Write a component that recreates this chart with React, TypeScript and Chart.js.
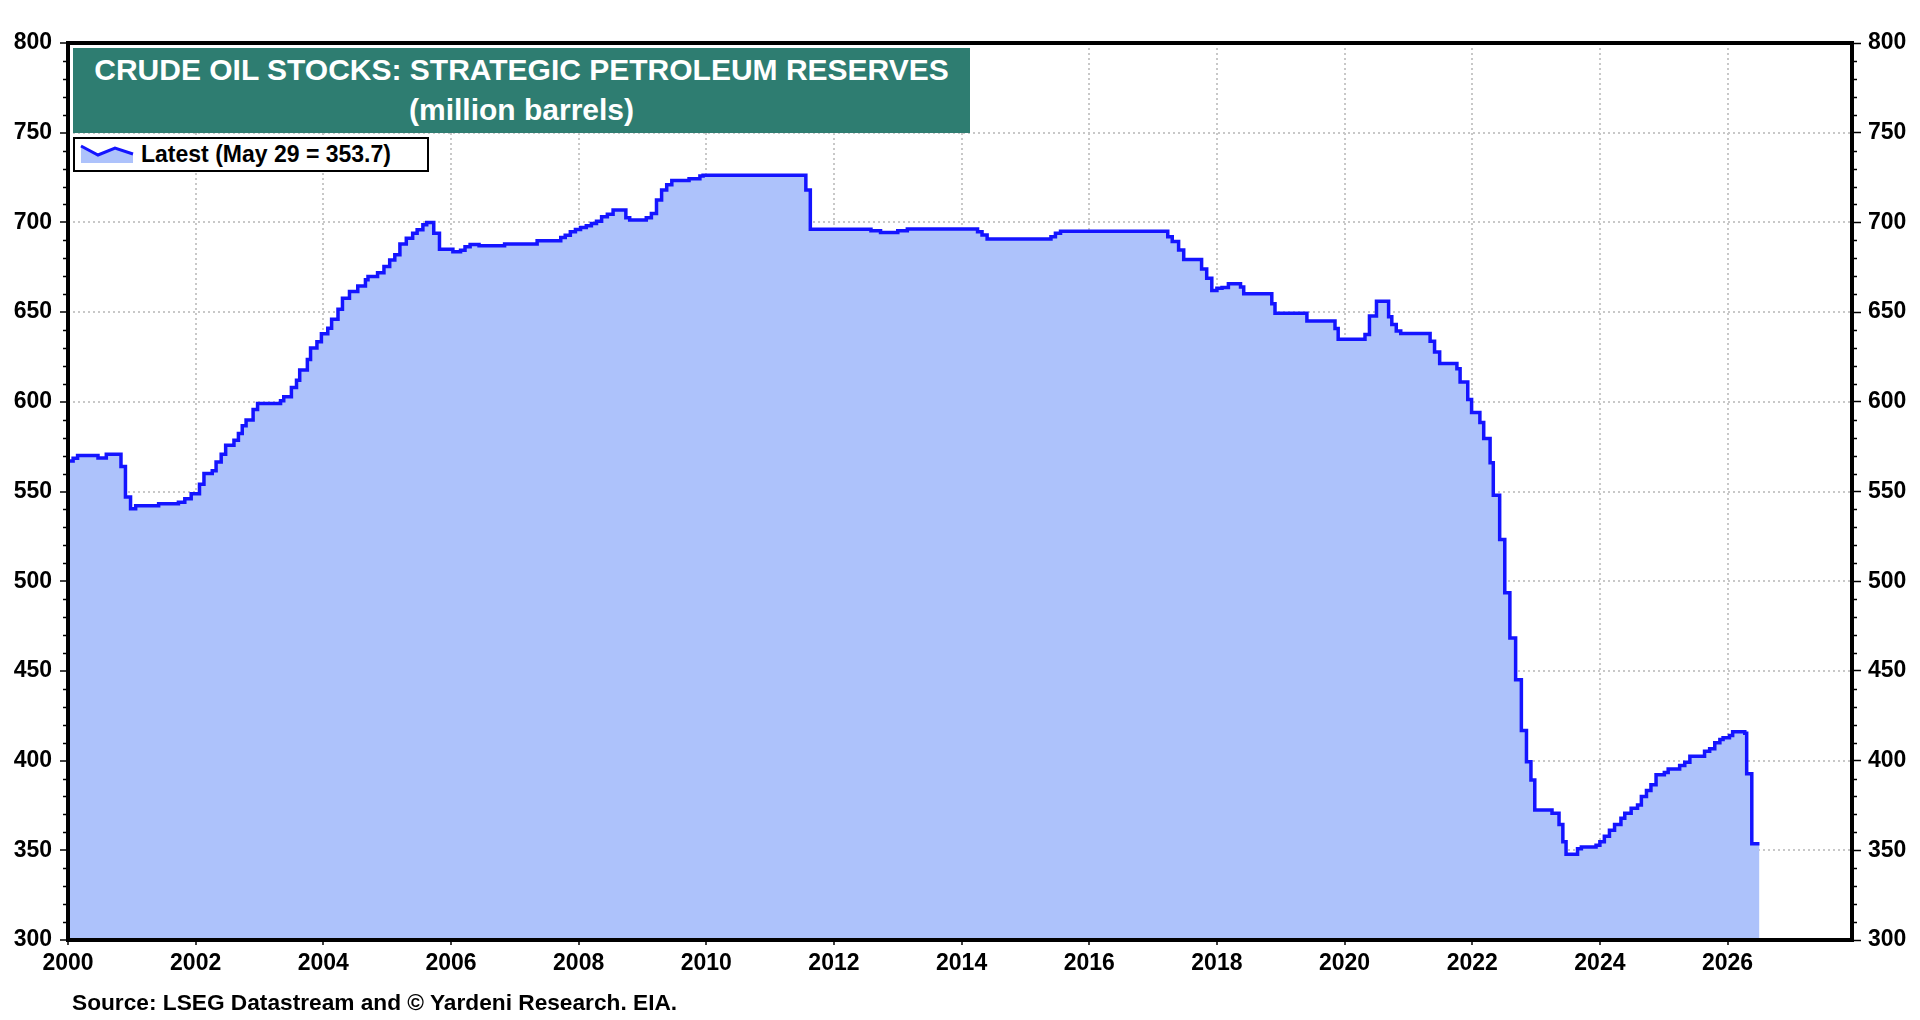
import { useEffect, useRef } from 'react';
import { Chart, registerables } from 'chart.js';

Chart.register(...registerables);

// step dates (decimal years) and SPR level (million barrels) from each date onward
const stepYears = [
  2000.0, 2000.08, 2000.15, 2000.47, 2000.6, 2000.83, 2000.9, 2000.98, 2001.06, 2001.42,
  2001.73, 2001.83, 2001.93, 2002.06, 2002.13, 2002.26, 2002.32, 2002.4, 2002.47, 2002.6,
  2002.67, 2002.73, 2002.79, 2002.9, 2002.97, 2003.33, 2003.38, 2003.5, 2003.58, 2003.63,
  2003.75, 2003.8, 2003.9, 2003.97, 2004.07, 2004.13, 2004.23, 2004.3, 2004.41, 2004.54,
  2004.66, 2004.7, 2004.85, 2004.95, 2005.04, 2005.12, 2005.2, 2005.3, 2005.4, 2005.47,
  2005.56, 2005.62, 2005.73, 2005.82, 2006.03, 2006.15, 2006.22, 2006.3, 2006.44, 2006.84,
  2007.35, 2007.72, 2007.79, 2007.87, 2007.95, 2008.03, 2008.12, 2008.2, 2008.28, 2008.36,
  2008.45, 2008.54, 2008.74, 2008.8, 2009.06, 2009.14, 2009.22, 2009.3, 2009.38, 2009.46,
  2009.73, 2009.9, 2009.95, 2011.56, 2011.63, 2012.58, 2012.73, 2013.0, 2013.15, 2014.25,
  2014.32, 2014.4, 2015.4, 2015.47, 2015.55, 2017.23, 2017.3, 2017.4, 2017.48, 2017.76,
  2017.84, 2017.92, 2018.0, 2018.08, 2018.18, 2018.37, 2018.42, 2018.86, 2018.91, 2019.41,
  2019.85, 2019.9, 2020.32, 2020.39, 2020.5, 2020.69, 2020.74, 2020.81, 2020.88, 2021.34,
  2021.41, 2021.49, 2021.76, 2021.81, 2021.93, 2021.99, 2022.12, 2022.18, 2022.28, 2022.33,
  2022.43, 2022.51, 2022.59, 2022.68, 2022.77, 2022.85, 2022.92, 2022.98, 2023.25, 2023.36,
  2023.42, 2023.47, 2023.65, 2023.71, 2023.94, 2024.0, 2024.07, 2024.15, 2024.23, 2024.33,
  2024.39, 2024.49, 2024.59, 2024.65, 2024.73, 2024.8, 2024.88, 2025.01, 2025.07, 2025.25,
  2025.33, 2025.41, 2025.64, 2025.72, 2025.8, 2025.88, 2025.93, 2026.03, 2026.08, 2026.27,
  2026.3, 2026.38, 2026.5,
];
const sprLevels = [
  567.0, 568.5, 570.0, 568.7, 570.8, 564.0, 547.0, 540.4, 542.0, 543.2,
  544.0, 546.0, 548.8, 554.0, 560.0, 561.5, 566.5, 570.8, 575.8, 578.6,
  582.3, 586.6, 589.8, 595.7, 599.0, 600.6, 602.8, 608.0, 612.0, 617.7,
  623.6, 630.0, 633.5, 638.0, 641.0, 646.0, 651.6, 657.7, 661.5, 664.6,
  668.0, 669.8, 672.0, 675.4, 679.0, 682.0, 688.0, 691.2, 694.0, 695.9,
  698.7, 700.0, 694.0, 685.0, 683.6, 684.5, 686.4, 687.7, 687.0, 688.0,
  689.8, 691.6, 692.9, 694.8, 696.0, 697.2, 698.1, 699.4, 700.7, 703.2,
  704.5, 706.9, 702.6, 701.3, 702.6, 705.0, 712.5, 718.0, 721.0, 723.3,
  724.4, 725.9, 726.3, 718.0, 696.2, 695.4, 694.4, 695.4, 696.3, 694.8,
  693.0, 690.7, 692.0, 693.9, 695.0, 692.0, 689.3, 684.6, 679.3, 674.0,
  668.9, 662.0, 663.3, 663.7, 665.8, 664.0, 660.2, 654.6, 649.3, 645.0,
  640.9, 634.8, 637.5, 647.8, 656.1, 647.4, 643.1, 639.4, 638.1, 633.8,
  627.7, 621.4, 618.4, 611.0, 601.3, 594.0, 588.5, 579.5, 566.0, 547.9,
  523.3, 493.5, 468.3, 445.0, 416.8, 399.4, 389.2, 372.4, 370.6, 364.4,
  354.7, 347.8, 350.9, 351.9, 352.8, 354.7, 357.9, 361.2, 364.4, 367.8,
  370.6, 373.4, 375.3, 380.0, 383.3, 386.5, 392.1, 393.4, 395.3, 397.2,
  399.1, 402.4, 405.2, 406.6, 409.9, 411.8, 412.7, 414.0, 416.1, 415.2,
  392.7, 353.7, 353.7,
];
const yearTicks = [2000, 2002, 2004, 2006, 2008, 2010, 2012, 2014, 2016, 2018, 2020, 2022, 2024, 2026];
const levelTicks = [300, 350, 400, 450, 500, 550, 600, 650, 700, 750, 800];

const FONT = '"Liberation Sans", Arial, sans-serif';
const tickFont = { family: FONT, size: 23, weight: 'bold' as const };

// short minor ticks every 10 on both y axes + heavy frame round the plot
const framePlugin = {
  id: 'frame',
  afterDraw(chart: any) {
    const { ctx, chartArea } = chart;
    const y = chart.scales.y;
    ctx.save();
    ctx.strokeStyle = '#000';
    ctx.lineWidth = 1.5;
    for (let v = 310; v < 800; v += 10) {
      if (v % 50 === 0) continue;
      const py = Math.round(y.getPixelForValue(v)) + 0.5;
      ctx.beginPath();
      ctx.moveTo(chartArea.left - 5, py);
      ctx.lineTo(chartArea.left, py);
      ctx.moveTo(chartArea.right, py);
      ctx.lineTo(chartArea.right + 5, py);
      ctx.stroke();
    }
    ctx.lineWidth = 4;
    ctx.strokeRect(chartArea.left, chartArea.top, chartArea.right - chartArea.left, chartArea.bottom - chartArea.top);
    ctx.restore();
  },
};

const SprChart = () => {
  const canvasRef = useRef<HTMLCanvasElement | null>(null);

  useEffect(() => {
    document.body.style.margin = '0';
    document.body.style.overflow = 'hidden';
    const ctx = canvasRef.current?.getContext('2d');
    if (!ctx) return;

    const chart = new Chart(ctx, {
      type: 'line',
      data: {
        datasets: [
          {
            label: 'Latest (May 29 = 353.7)',
            data: stepYears.map((x, i) => ({ x, y: sprLevels[i] })),
            stepped: 'before',
            borderColor: '#1414ff',
            borderWidth: 3.5,
            backgroundColor: '#adc2fb',
            fill: 'start',
            pointRadius: 0,
          },
        ],
      },
      options: {
        animation: false,
        responsive: false,
        maintainAspectRatio: false,
        layout: { padding: { top: 43, left: 0, right: 0, bottom: 0 } },
        plugins: { legend: { display: false }, tooltip: { enabled: false } },
        scales: {
          x: {
            type: 'linear',
            min: 2000,
            max: 2027.95,
            afterFit: (s: any) => { s.height = 80; },
            afterBuildTicks: (s: any) => { s.ticks = yearTicks.map((value) => ({ value })); },
            ticks: { font: tickFont, color: '#000', padding: 5, maxRotation: 0, autoSkip: false, callback: (v: any) => String(v) },
            grid: { color: '#c8c8c8', lineWidth: 2, tickColor: '#000', tickLength: 5, tickWidth: 1.5 },
            border: { display: false, dash: [2, 3] },
          },
          y: {
            position: 'left',
            min: 300,
            max: 800,
            afterFit: (s: any) => { s.width = 68; },
            afterBuildTicks: (s: any) => { s.ticks = levelTicks.map((value) => ({ value })); },
            ticks: { font: tickFont, color: '#000', padding: 8 },
            grid: { color: '#c8c8c8', lineWidth: 2, tickColor: '#000', tickLength: 8, tickWidth: 1.5 },
            border: { display: false, dash: [2, 3] },
          },
          y2: {
            position: 'right',
            min: 300,
            max: 800,
            afterFit: (s: any) => { s.width = 68; },
            afterBuildTicks: (s: any) => { s.ticks = levelTicks.map((value) => ({ value })); },
            ticks: { font: tickFont, color: '#000', padding: 7 },
            grid: { drawOnChartArea: false, tickColor: '#000', tickLength: 9, tickWidth: 1.5 },
            border: { display: false },
          },
        },
      },
      plugins: [framePlugin],
    } as any);

    return () => {
      chart.destroy();
    };
  }, []);

  return <canvas ref={canvasRef} width={1920} height={1020} style={{ display: 'block' }} />;
};

export default function App() {
  return (
    <div style={{ position: 'relative', width: 1920, height: 1020, background: '#fff', fontFamily: FONT }}>
      <SprChart />
      <div
        style={{
          position: 'absolute', left: 73, top: 48, width: 897, height: 85, background: '#2e7d71',
          color: '#fff', fontWeight: 'bold', fontSize: 30, textAlign: 'center', lineHeight: '40px', paddingTop: 2,
          boxSizing: 'border-box',
        }}
      >
        <div>CRUDE OIL STOCKS: STRATEGIC PETROLEUM RESERVES</div>
        <div>(million barrels)</div>
      </div>
      <div
        style={{
          position: 'absolute', left: 73, top: 137, width: 356, height: 35, background: '#fff',
          border: '2px solid #000', boxSizing: 'border-box', display: 'flex', alignItems: 'center',
        }}
      >
        <svg width={66} height={31} style={{ flex: 'none' }}>
          <polygon points="6,7 23,16 40,9 58,15 58,24 6,24" fill="#adc2fb" />
          <polyline points="6,7 23,16 40,9 58,15" fill="none" stroke="#1414ff" strokeWidth={3} />
        </svg>
        <span style={{ fontWeight: 'bold', fontSize: 23, color: '#000', whiteSpace: 'nowrap' }}>Latest (May 29 = 353.7)</span>
      </div>
      <div
        style={{
          position: 'absolute', left: 72, top: 989, fontWeight: 'bold', fontSize: 22.7, color: '#000',
          whiteSpace: 'nowrap', lineHeight: '26px',
        }}
      >
        Source: LSEG Datastream and © Yardeni Research. EIA.
      </div>
    </div>
  );
}
